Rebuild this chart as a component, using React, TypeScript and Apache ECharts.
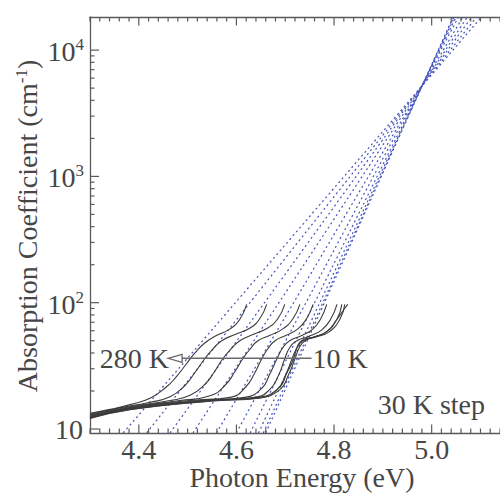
import React, { useEffect, useRef } from 'react';
import * as echarts from 'echarts';

// ---- axis ranges ----
const X_MIN = 4.3;
const X_MAX = 5.14;
const Y_MIN = 9.296;
const Y_MAX = 18285;

// ---- tick labels ----
const xTickValues = [4.4, 4.6, 4.8, 5.0];
const xTickLabels = ['4.4', '4.6', '4.8', '5.0'];
const yTickValues = [10, 100, 1000, 10000];
const yTickBase = ['10', '10', '10', '10'];
const yTickExponents = ['', '2', '3', '4'];

// ---- absorption spectra (photon energy eV, absorption coefficient cm^-1) ----
const curve280K = [[4.300, 13.3], [4.341, 14.3], [4.382, 15.6], [4.423, 17.5], [4.457, 21.6], [4.477, 26], [4.498, 33], [4.515, 40], [4.535, 48], [4.559, 55], [4.587, 62], [4.607, 74], [4.621, 97]];
const curve250K = [[4.300, 13.1], [4.361, 14.7], [4.423, 16.3], [4.464, 18.0], [4.494, 22], [4.515, 28], [4.535, 36], [4.552, 43], [4.570, 50], [4.597, 56], [4.628, 63], [4.648, 75], [4.662, 97]];
const curve220K = [[4.300, 12.9], [4.382, 15.0], [4.464, 16.8], [4.505, 18.5], [4.535, 22.5], [4.554, 28], [4.572, 36], [4.589, 43], [4.607, 50], [4.634, 56], [4.664, 63], [4.685, 75], [4.699, 97]];
const curve190K = [[4.300, 12.7], [4.382, 14.8], [4.484, 16.8], [4.546, 18.3], [4.578, 22.5], [4.597, 28.5], [4.613, 36], [4.628, 43], [4.644, 50], [4.668, 55], [4.695, 62], [4.716, 75], [4.730, 97]];
const curve160K = [[4.300, 12.6], [4.382, 14.7], [4.505, 16.8], [4.587, 17.8], [4.619, 21.5], [4.638, 28], [4.652, 36], [4.664, 43], [4.679, 50], [4.701, 55], [4.726, 62], [4.744, 75], [4.757, 97]];
const curve130K = [[4.300, 12.5], [4.382, 14.6], [4.525, 16.8], [4.617, 17.8], [4.652, 21], [4.668, 27], [4.683, 36], [4.695, 44], [4.709, 50], [4.734, 55], [4.757, 62], [4.773, 75], [4.785, 97]];
const curve100K = [[4.300, 12.4], [4.382, 14.5], [4.525, 16.7], [4.638, 17.8], [4.668, 20.5], [4.687, 27], [4.699, 36], [4.709, 44], [4.724, 50], [4.748, 54], [4.775, 61], [4.793, 74], [4.806, 97]];
const curve70K = [[4.300, 12.3], [4.382, 14.4], [4.546, 16.8], [4.640, 17.7], [4.683, 20.5], [4.701, 27], [4.714, 36], [4.724, 44], [4.736, 50], [4.759, 53.5], [4.785, 59], [4.806, 74], [4.816, 97]];
const curve40K = [[4.300, 12.2], [4.382, 14.3], [4.546, 16.7], [4.645, 17.6], [4.689, 20.5], [4.707, 27], [4.720, 36], [4.730, 45], [4.742, 50.5], [4.763, 53.5], [4.789, 58.5], [4.812, 74], [4.822, 97]];
const curve10K = [[4.300, 12.1], [4.382, 14.2], [4.546, 16.6], [4.650, 17.6], [4.689, 21.6], [4.703, 27.6], [4.716, 35], [4.726, 46], [4.736, 50.6], [4.757, 53.2], [4.785, 59], [4.806, 74], [4.818, 86], [4.828, 97]];

const temperatureNames = ['280 K', '250 K', '220 K', '190 K', '160 K', '130 K', '100 K', '70 K', '40 K', '10 K'];
const spectra = [curve280K, curve250K, curve220K, curve190K, curve160K, curve130K, curve100K, curve70K, curve40K, curve10K];

// ---- Urbach fits (straight lines on log scale): energy at bottom / top of plot ----
const urbachBottomAlpha = 9.3;
const urbachTopAlpha = 18285;
const urbachBottomE = [4.368, 4.416, 4.464, 4.511, 4.559, 4.600, 4.628, 4.645, 4.655, 4.660];
const urbachTopE = [5.102, 5.092, 5.082, 5.073, 5.064, 5.055, 5.050, 5.047, 5.045, 5.044];

// ---- annotation anchors (data space) ----
const arrowAlpha = 36.3;
const arrowStartE = 4.754;
const arrowTipE = 4.46;

const FONT_FAMILY = 'Liberation Serif';
const AXIS_COLOR = '#5a5a5a';
const TEXT_COLOR = '#464646';
const CURVE_COLOR = '#3c3c3c';
const DASH_COLOR = '#4555bb';

function textStyle(text: string, align: string, vAlign: string, size = 28) {
  return {
    legacy: false,
    text,
    x: 0,
    y: 0,
    fill: TEXT_COLOR,
    font: `${size}px ${FONT_FAMILY}`,
    align,
    verticalAlign: vAlign,
  };
}

function textEl(text: string, x: number, y: number, align: string, vAlign: string, size = 28) {
  return { type: 'text', x, y, silent: true, style: textStyle(text, align, vAlign, size) };
}

function lineEl(x1: number, y1: number, x2: number, y2: number, color = AXIS_COLOR, width = 1.2) {
  return {
    type: 'line',
    silent: true,
    shape: { x1, y1, x2, y2 },
    style: { stroke: color, lineWidth: width, fill: null },
  };
}

function renderFrame(params: any, api: any) {
  const children: any[] = [];
  const bottomY = api.coord([X_MIN, Y_MIN])[1];
  const topY = api.coord([X_MIN, Y_MAX])[1];
  const leftX = api.coord([X_MIN, Y_MIN])[0];
  const MAJOR = 8.5;
  const MINOR = 4.5;

  // x minor ticks every 0.02
  const nMinor = Math.round((X_MAX - X_MIN) / 0.02);
  for (let i = 0; i <= nMinor; i++) {
    const v = Math.round((X_MIN + i * 0.02) * 1000) / 1000;
    const isMajor = xTickValues.some((m) => Math.abs(m - v) < 1e-6);
    const len = isMajor ? MAJOR : MINOR;
    const px = api.coord([v, Y_MIN])[0];
    children.push(lineEl(px, bottomY, px, bottomY - len));
    children.push(lineEl(px, topY, px, topY + len));
  }
  xTickValues.forEach((v, i) => {
    const px = api.coord([v, Y_MIN])[0];
    children.push(textEl(xTickLabels[i], px, 449, 'center', 'middle'));
  });

  // y minor ticks 2..9 per decade
  [1, 10, 100, 1000, 10000].forEach((d) => {
    for (let k = 2; k <= 9; k++) {
      const v = k * d;
      if (v < Y_MIN || v > Y_MAX) continue;
      const py = api.coord([X_MIN, v])[1];
      children.push(lineEl(leftX, py, leftX + MINOR, py));
    }
  });
  yTickValues.forEach((v, i) => {
    const py = api.coord([X_MIN, v])[1];
    children.push(lineEl(leftX, py, leftX + MAJOR + 0.5, py));
    if (yTickExponents[i]) {
      children.push(textEl(yTickBase[i], leftX - 14.5, py + 1.5, 'right', 'middle'));
      children.push(textEl(yTickExponents[i], leftX - 14.5, py - 5.5, 'left', 'middle', 17));
    } else {
      children.push(textEl(yTickBase[i], leftX - 7, py + 1, 'right', 'middle'));
    }
  });

  // temperature arrow
  const [sx, sy] = api.coord([arrowStartE, arrowAlpha]);
  const [tx] = api.coord([arrowTipE, arrowAlpha]);
  children.push(lineEl(sx, sy, tx + 13, sy, '#6a6a6a', 1.6));
  children.push({
    type: 'polygon',
    silent: true,
    shape: { points: [[tx, sy], [tx + 14, sy - 4], [tx + 14, sy + 4]] },
    style: { fill: '#ffffff', stroke: '#6a6a6a', lineWidth: 1.3 },
  });
  children.push(textEl(temperatureNames[0], tx + 1, sy + 0.5, 'right', 'middle'));
  children.push(textEl(temperatureNames[temperatureNames.length - 1], sx + 1, sy + 0.5, 'left', 'middle'));

  return { type: 'group', children };
}

export default function App() {
  const ref = useRef<HTMLDivElement>(null);

  useEffect(() => {
    if (!ref.current) return;
    const chart = echarts.init(ref.current, null, { renderer: 'svg' });

    const dashedSeries = urbachBottomE.map((e, i) => ({
      name: `Urbach ${temperatureNames[i]}`,
      type: 'line',
      xAxisIndex: 0,
      yAxisIndex: 0,
      data: [[e, urbachBottomAlpha], [urbachTopE[i], urbachTopAlpha]],
      showSymbol: false,
      symbol: 'none',
      silent: true,
      clip: true,
      lineStyle: { color: DASH_COLOR, width: 1.2, type: [2, 3] },
      z: 2,
    }));

    const curveSeries = spectra.map((d, i) => ({
      name: temperatureNames[i],
      type: 'line',
      xAxisIndex: 0,
      yAxisIndex: 0,
      data: d,
      showSymbol: false,
      symbol: 'none',
      silent: true,
      clip: true,
      smooth: 0.5,
      lineStyle: { color: CURVE_COLOR, width: 1.1 },
      z: 3,
    }));

    const titleStyle: any = textStyle('Absorption Coefficient (cm{sup|-1})', 'center', 'middle');
    titleStyle.rich = {
      sup: {
        fontSize: 17,
        fontFamily: FONT_FAMILY,
        fill: TEXT_COLOR,
        verticalAlign: 'top',
      },
    };

    const option: any = {
      animation: false,
      backgroundColor: '#ffffff',
      grid: { left: 90, right: 0, top: 17, bottom: 63, containLabel: false },
      xAxis: [
        {
          type: 'value',
          min: X_MIN,
          max: X_MAX,
          position: 'bottom',
          axisLine: { show: true, lineStyle: { color: AXIS_COLOR, width: 1.3 } },
          axisTick: { show: false },
          axisLabel: { show: false },
          splitLine: { show: false },
        },
        {
          type: 'value',
          min: X_MIN,
          max: X_MAX,
          position: 'top',
          axisLine: { show: true, lineStyle: { color: AXIS_COLOR, width: 1.3 } },
          axisTick: { show: false },
          axisLabel: { show: false },
          splitLine: { show: false },
        },
      ],
      yAxis: [
        {
          type: 'log',
          logBase: 10,
          min: Y_MIN,
          max: Y_MAX,
          position: 'left',
          axisLine: { show: true, lineStyle: { color: AXIS_COLOR, width: 1.3 } },
          axisTick: { show: false },
          axisLabel: { show: false },
          splitLine: { show: false },
        },
      ],
      graphic: [
        { type: 'text', x: 27, y: 226, rotation: Math.PI / 2, silent: true, style: titleStyle },
        { type: 'text', x: 302, y: 477, silent: true, style: textStyle('Photon Energy (eV)', 'center', 'middle') },
        { type: 'text', x: 485, y: 404, silent: true, style: textStyle('30 K step', 'right', 'middle') },
      ],
      series: [
        ...dashedSeries,
        ...curveSeries,
        {
          type: 'custom',
          name: 'frame',
          xAxisIndex: 0,
          yAxisIndex: 0,
          silent: true,
          clip: false,
          data: [[4.6, 100]],
          renderItem: renderFrame,
          z: 5,
        },
      ],
    };

    chart.setOption(option);
    return () => chart.dispose();
  }, []);

  return (
    <div
      ref={ref}
      style={{ position: 'fixed', left: 0, top: 0, width: 500, height: 496, background: '#ffffff' }}
    />
  );
}
